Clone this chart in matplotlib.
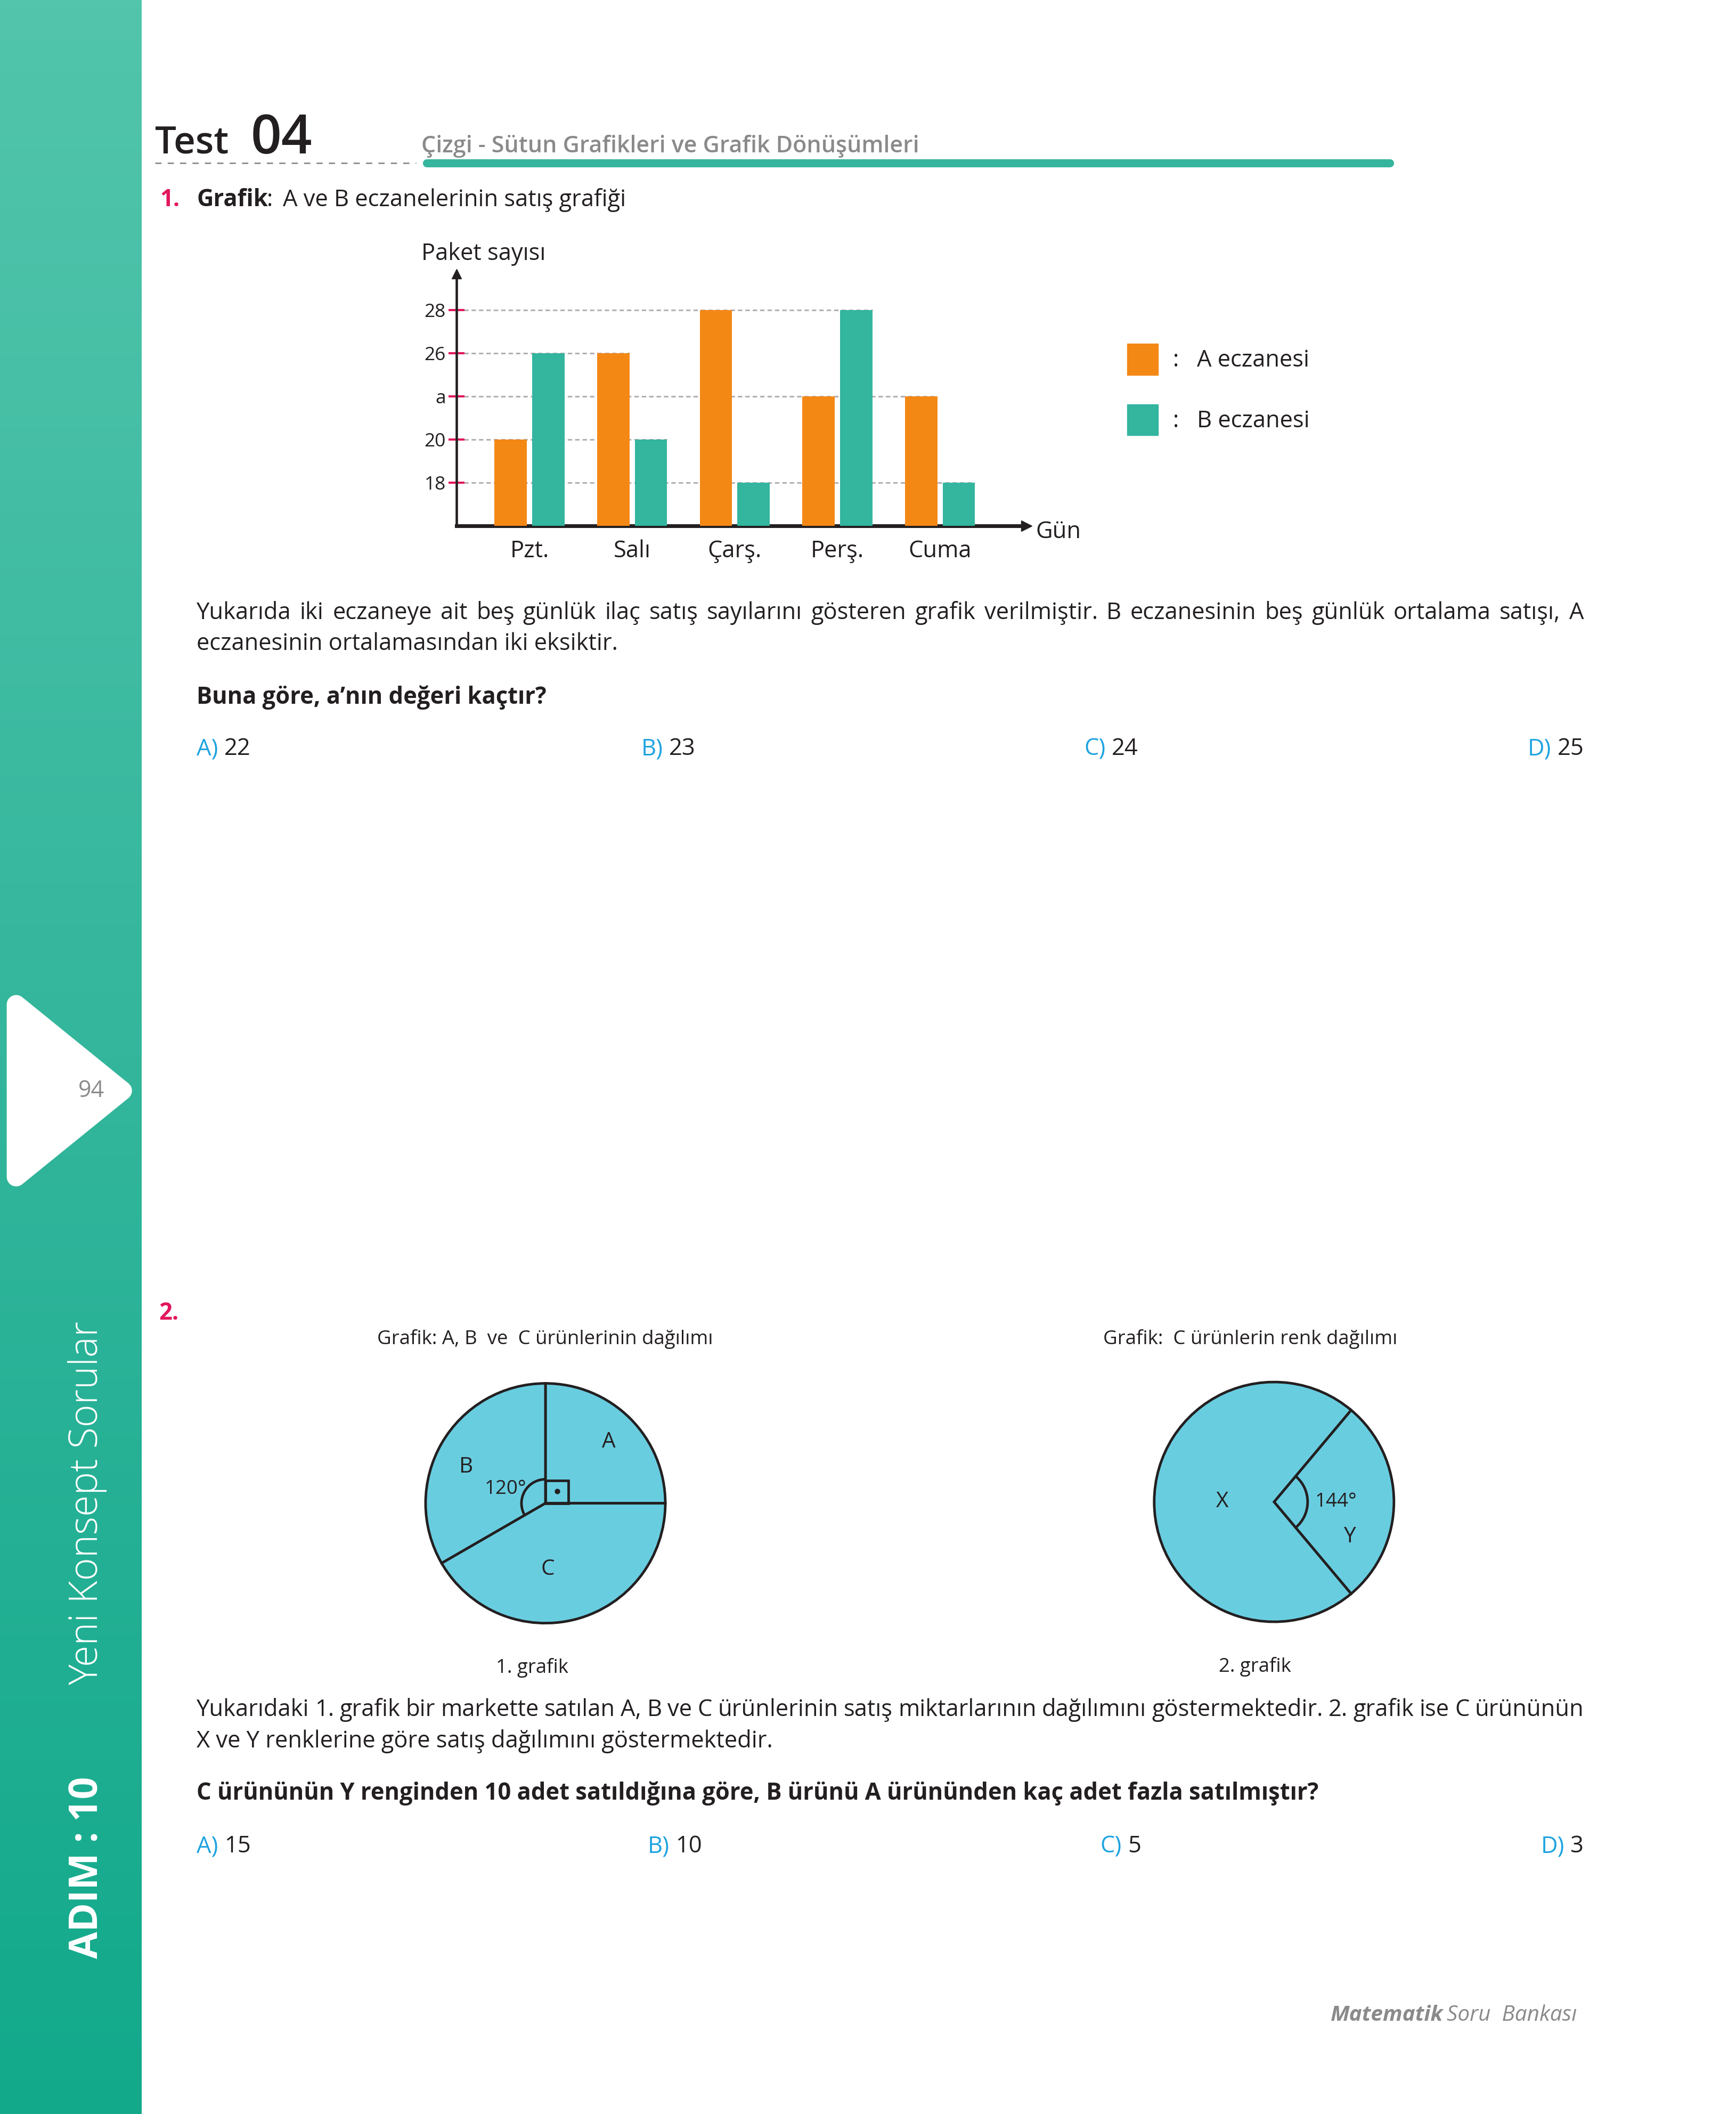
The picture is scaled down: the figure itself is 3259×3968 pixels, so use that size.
import numpy as np
import matplotlib
matplotlib.use("Agg")
import matplotlib.pyplot as plt
from matplotlib.patches import Polygon, Rectangle, Arc
from matplotlib.colors import LinearSegmentedColormap

plt.rcParams['font.family'] = ['Open Sans', 'DejaVu Sans']
plt.rcParams['lines.scale_dashes'] = False

# --- data ---
days = ["Pzt.", "Salı", "Çarş.", "Perş.", "Cuma"]
levels = ["18", "20", "a", "26", "28"]          # y tick labels, bottom to top
eczane_a = ["20", "26", "28", "a", "a"]
eczane_b = ["26", "20", "18", "28", "18"]

pie1_labels = ["A", "B", "C"]
pie1_deg = [90, 120, 150]
pie2_labels = ["Y", "X"]
pie2_deg = [100, 260]          # as drawn on the page (marked 144°)

options1 = ["22", "23", "24", "25"]
options2 = ["15", "10", "5", "3"]

ORANGE = "#f48815"
TEAL = "#33b59e"
PIE = "#69cde0"
DARK = "#231f20"
RED = "#e2165e"
BLUE = "#1ea3e0"
GRAY = "#8a8a8a"

# page layout units (about 2.53 px each)
W, H = 1289, 1568
fig = plt.figure(figsize=(32.59, 39.68), dpi=100)
bg = fig.add_axes([0, 0, 1, 1])


def pt(u):
    return u * 2.53 * 0.72


# sidebar
grad = np.linspace(0, 1, 256).reshape(-1, 1)
cm = LinearSegmentedColormap.from_list("side", ["#52c5ac", "#33b69c", "#12a98b"])
bg.imshow(grad, extent=[0, 105, H, 0], cmap=cm, aspect="auto")
bg.set_xlim(0, W)
bg.set_ylim(H, 0)
bg.axis("off")

bg.add_patch(Polygon([(12, 745), (12, 873), (91, 809)], closed=True, fc="white",
                     ec="white", lw=pt(14), joinstyle="round"))
bg.text(68, 809, "94", color=GRAY, size=pt(17), ha="center", va="center")
bg.text(65, 1115, "Yeni Konsept Sorular", rotation=90, color="white", size=pt(29),
        fontweight="light", ha="center", va="center")
bg.text(65, 1385, "ADIM : 10", rotation=90, color="white", size=pt(29),
        fontweight="bold", ha="center", va="center")
bg.text(1076, -7, "10", color=DARK, size=pt(24), fontweight="bold", ha="center", va="center")

R = fig.canvas.get_renderer()
SX = fig.bbox.width / W


def wid(t):
    return t.get_window_extent(R).width / SX


def space_w(size, **kw):
    a = bg.text(0, 0, "a a", size=size, **kw)
    b = bg.text(0, 0, "aa", size=size, **kw)
    w = wid(a) - wid(b)
    a.remove()
    b.remove()
    return w


def run(x, y, parts, size, align="left"):
    # parts: list of (text, kwargs, gap_in_spaces_before)
    items = []
    cur = 0
    for s, kw, gap in parts:
        cur += gap * space_w(size, **kw)
        t = bg.text(0, y, s, size=size, va="baseline", **kw)
        items.append((t, cur))
        cur += wid(t)
    start = x - cur if align == "right" else x
    for t, off in items:
        t.set_x(start + off)


def justify(x0, x1, y, line, size, **kw):
    words = line.split()
    ts = [bg.text(0, y, w, size=size, va="baseline", color=DARK, **kw) for w in words]
    ws = [wid(t) for t in ts]
    gap = (x1 - x0 - sum(ws)) / (len(words) - 1)
    cx = x0
    for t, w in zip(ts, ws):
        t.set_x(cx)
        cx += w + gap


# header
bg.text(115, 114, "Test", color=DARK, size=pt(28), fontweight="semibold", va="baseline")
bg.text(186, 114, "04", color=DARK, size=pt(40), fontweight="semibold", va="baseline")
bg.text(313, 113, "Çizgi - Sütun Grafikleri ve Grafik Dönüşümleri", color=GRAY,
        size=pt(17), fontweight="semibold", va="baseline")
bg.plot([115, 309], [121, 121], color="#8c8c8c", lw=pt(1.1), dashes=(pt(4.6), pt(4.6)))
bg.plot([317, 1032], [121, 121], color="#35b59d", lw=pt(6), solid_capstyle="round")

# question 1
BODY = pt(17.2)
bg.text(119, 153, "1.", color=RED, size=BODY, fontweight="bold", va="baseline")
bg.text(146, 153, "Grafik", color=DARK, size=BODY, fontweight="bold", va="baseline")
bg.text(198, 153, ":", color=DARK, size=BODY, va="baseline")
bg.text(210, 153, "A ve B eczanelerinin satış grafiği", color=DARK, size=BODY, va="baseline")
bg.text(313, 193, "Paket sayısı", color=DARK, size=BODY, va="baseline")
bg.text(769, 399, "Gün", color=DARK, size=BODY, va="baseline")

ax = fig.add_axes([339 / W, 1 - 390 / H, (762 - 339) / W, (390 - 203) / H])
x = np.arange(len(days))
ha = np.array([levels.index(v) + 1 for v in eczane_a])
hb = np.array([levels.index(v) + 1 for v in eczane_b])
bw, off = 0.315, 0.183
ax.bar(x - off, ha, bw, color=ORANGE, zorder=3)
ax.bar(x + off, hb, bw, color=TEAL, zorder=3)
x0, x1, y1 = -0.71, 4.84, 5.84
ax.set_xlim(x0, x1)
ax.set_ylim(0, y1)
for k in range(1, len(levels) + 1):
    rights = list(x[ha == k] - off + bw / 2) + list(x[hb == k] + off + bw / 2)
    if rights:
        ax.plot([x0, max(rights)], [k, k], color="#b5aeb5", lw=pt(1.2),
                dashes=(6, 4), zorder=1)
for s in ["top", "right"]:
    ax.spines[s].set_visible(False)
ax.spines["left"].set_linewidth(pt(1.8))
ax.spines["bottom"].set_linewidth(pt(2.8))
ax.spines["left"].set_color(DARK)
ax.spines["bottom"].set_color(DARK)
ax.plot(x1, 0, marker=">", ms=pt(8), color=DARK, clip_on=False, zorder=5)
ax.plot(x0, y1, marker="^", ms=pt(7), color=DARK, clip_on=False, zorder=5)
ax.set_yticks(range(1, len(levels) + 1), levels)
ax.set_xticks(x, days)
ax.tick_params(axis="y", direction="inout", length=pt(12), width=pt(1.6), color=RED,
               labelsize=pt(14), labelcolor=DARK, pad=pt(2))
ax.tick_params(axis="x", length=0, labelsize=BODY, labelcolor=DARK, pad=pt(10))
ax.set_facecolor("none")

bg.add_patch(Rectangle((837, 255), 23, 23, color=ORANGE))
bg.add_patch(Rectangle((837, 300), 23, 23, color=TEAL))
bg.text(871, 272, ":   A eczanesi", color=DARK, size=BODY, va="baseline")
bg.text(871, 317, ":   B eczanesi", color=DARK, size=BODY, va="baseline")

justify(146, 1176, 459, "Yukarıda iki eczaneye ait beş günlük ilaç satış sayılarını gösteren "
        "grafik verilmiştir. B eczanesinin beş günlük ortalama satışı, A", BODY)
bg.text(146, 482, "eczanesinin ortalamasından iki eksiktir.", color=DARK, size=BODY, va="baseline")
bg.text(146, 522, "Buna göre, a’nın değeri kaçtır?", color=DARK, size=BODY,
        fontweight="bold", va="baseline")


def options(y, vals, xs):
    for i, (lab, v) in enumerate(zip("ABCD", vals)):
        parts = [(lab + ")", dict(color=BLUE), 0), (v, dict(color=DARK), 1.0)]
        if i == 3:
            run(1176, y, parts, BODY, align="right")
        else:
            run(xs[i], y, parts, BODY)


options(560, options1, [146, 476, 805])

# question 2
bg.text(118, 979, "2.", color=RED, size=BODY, fontweight="bold", va="baseline")
SMALL = pt(14.5)
bg.text(280, 997, "Grafik: A, B  ve  C ürünlerinin dağılımı", color=DARK, size=SMALL, va="baseline")
bg.text(819, 997, "Grafik:  C ürünlerin renk dağılımı", color=DARK, size=SMALL, va="baseline")


def pie_axes(cx, cy, r):
    a = fig.add_axes([(cx - r * 1.1) / W, 1 - (cy + r * 1.1) / H, 2.2 * r / W, 2.2 * r / H])
    return a


EDGE = dict(edgecolor=DARK, linewidth=pt(1.9))
p1 = pie_axes(405, 1115, 89)
p1.pie(pie1_deg, colors=[PIE] * 3, startangle=0, wedgeprops=EDGE)
p1.set_xlim(-1.1, 1.1)
p1.set_ylim(-1.1, 1.1)
p1.add_patch(Rectangle((0, 0), 0.19, 0.19, fill=False, ec=DARK, lw=pt(1.9)))
p1.plot(0.1, 0.1, "o", ms=pt(3.5), color=DARK)
p1.add_patch(Arc((0, 0), 0.4, 0.4, theta1=90, theta2=210, color=DARK, lw=pt(1.9)))
p1.text(-0.16, 0.12, "120°", color=DARK, size=SMALL, ha="right", va="center")
for lab, (lx, ly) in zip(pie1_labels, [(0.53, 0.51), (-0.66, 0.30), (0.02, -0.55)]):
    p1.text(lx, ly, lab, color=DARK, size=pt(16), ha="center", va="center")

p2 = pie_axes(946, 1114, 89)
p2.pie(pie2_deg, colors=[PIE] * 2, startangle=-50, wedgeprops=EDGE)
p2.set_xlim(-1.1, 1.1)
p2.set_ylim(-1.1, 1.1)
p2.add_patch(Arc((0, 0), 0.56, 0.56, theta1=-50, theta2=50, color=DARK, lw=pt(1.9)))
p2.text(0.34, 0.0, "144°", color=DARK, size=SMALL, ha="left", va="center")
for lab, (lx, ly) in zip(pie2_labels, [(0.63, -0.29), (-0.43, 0.0)]):
    p2.text(lx, ly, lab, color=DARK, size=pt(16), ha="center", va="center")

bg.text(395, 1241, "1. grafik", color=DARK, size=SMALL, ha="center", va="baseline")
bg.text(932, 1240, "2. grafik", color=DARK, size=SMALL, ha="center", va="baseline")

justify(146, 1176, 1273, "Yukarıdaki 1. grafik bir markette satılan A, B ve C ürünlerinin satış "
        "miktarlarının dağılımını göstermektedir. 2. grafik ise C ürününün", BODY)
bg.text(146, 1296, "X ve Y renklerine göre satış dağılımını göstermektedir.", color=DARK,
        size=BODY, va="baseline")
bg.text(146, 1335, "C ürününün Y renginden 10 adet satıldığına göre, B ürünü A ürününden kaç "
        "adet fazla satılmıştır?", color=DARK, size=BODY, fontweight="bold", va="baseline")
options(1374, options2, [146, 481, 817])

run(988, 1499, [("Matematik", dict(color=GRAY, fontweight="bold", style="italic"), 0),
                ("Soru  Bankası", dict(color=GRAY, style="italic"), 0.6)], pt(16))

fig.savefig("out.png", dpi=100)
